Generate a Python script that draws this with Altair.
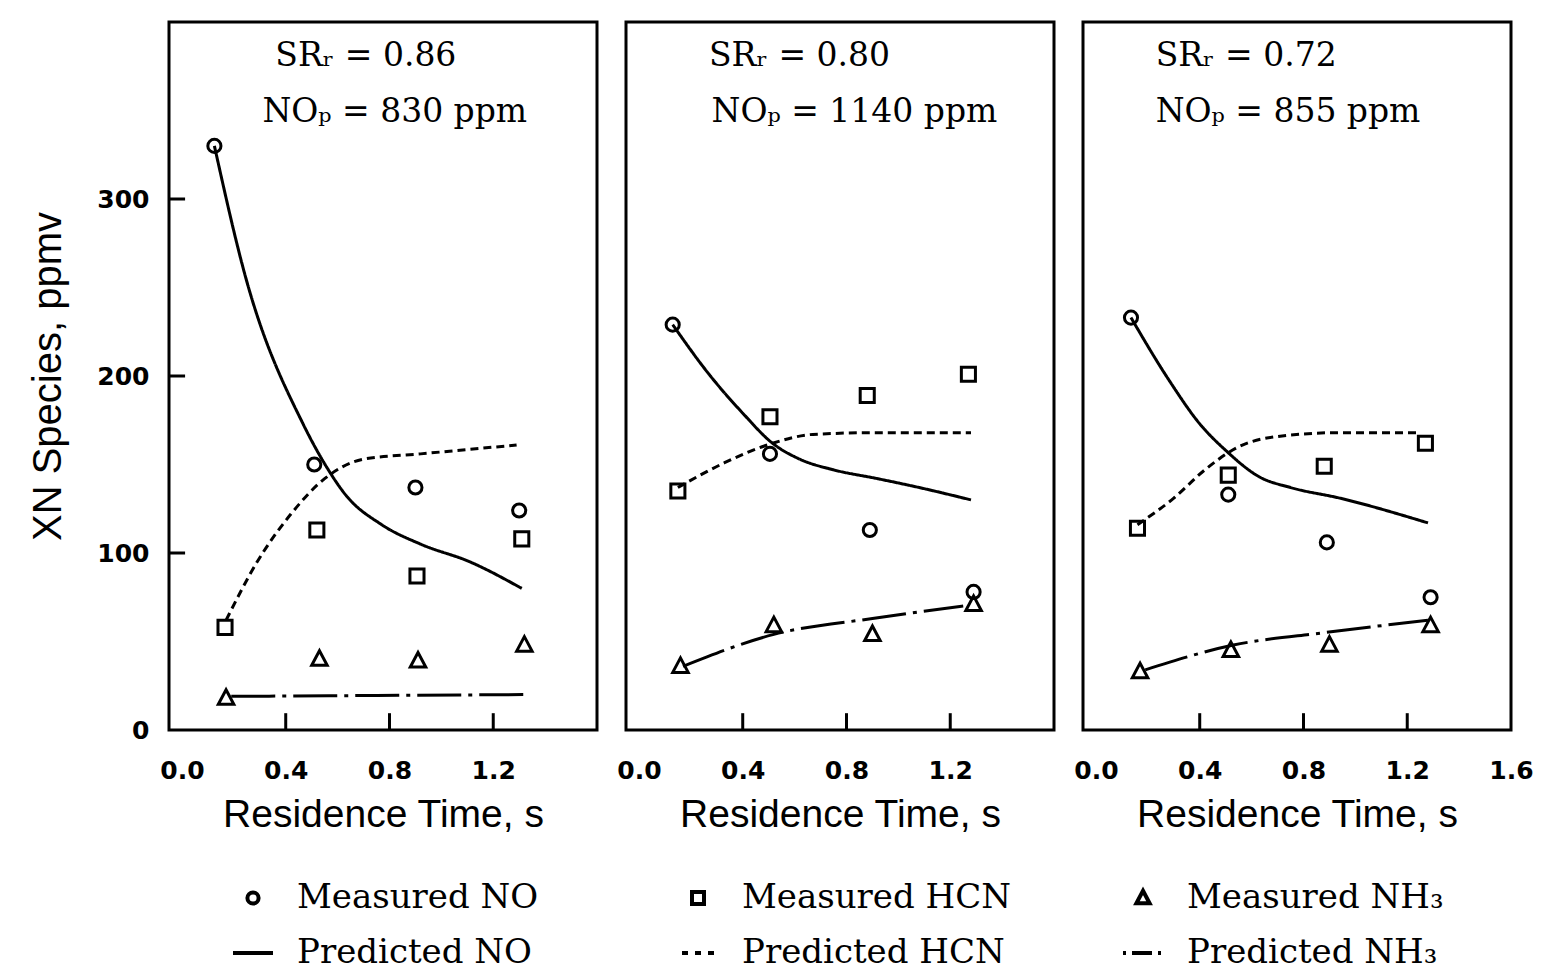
import altair as alt
import pandas as pd

# ---------------- data ----------------
panel_ids = [0, 1, 2]
sr_text = ["SR\u1d63 = 0.86", "SR\u1d63 = 0.80", "SR\u1d63 = 0.72"]
nop_text = ["NO\u209a = 830 ppm", "NO\u209a = 1140 ppm", "NO\u209a = 855 ppm"]

# Measured NO
mno_x = [[0.125, 0.51, 0.90, 1.30], [0.13, 0.505, 0.89, 1.29], [0.135, 0.51, 0.89, 1.29]]
mno_y = [[330, 150, 137, 124], [229, 156, 113, 78], [233, 133, 106, 75]]
# Measured HCN
mhcn_x = [[0.166, 0.52, 0.906, 1.31], [0.15, 0.505, 0.88, 1.27], [0.16, 0.51, 0.88, 1.27]]
mhcn_y = [[58, 113, 87, 108], [135, 177, 189, 201], [114, 144, 149, 162]]
# Measured NH3
mnh3_x = [[0.17, 0.53, 0.91, 1.32], [0.16, 0.52, 0.90, 1.29], [0.17, 0.52, 0.90, 1.29]]
mnh3_y = [[18, 40, 39, 48], [36, 59, 54, 71], [33, 45, 48, 59]]

# Predicted NO
pno_x = [[0.125, 0.245, 0.47, 0.56, 0.63, 0.77, 0.92, 1.11, 1.31],
         [0.13, 0.27, 0.40, 0.515, 0.62, 0.75, 0.92, 1.08, 1.28],
         [0.135, 0.28, 0.40, 0.50, 0.63, 0.75, 0.94, 1.28]]
pno_y = [[330, 256, 172, 148, 133, 116, 105, 95, 80],
         [229, 201, 179, 162, 153, 147, 142, 137, 130],
         [233, 198, 173, 158, 143, 137, 131, 117]]
# Predicted HCN
phcn_x = [[0.17, 0.29, 0.42, 0.55, 0.70, 0.92, 1.29],
          [0.15, 0.33, 0.515, 0.67, 0.92, 1.28],
          [0.16, 0.30, 0.42, 0.55, 0.71, 0.94, 1.25]]
phcn_y = [[62, 95, 122, 142, 153, 156, 161],
          [137, 151, 162, 167, 168, 168],
          [116, 131, 147, 160, 166, 168, 168]]
# Predicted NH3
pnh3_x = [[0.19, 0.75, 1.32], [0.17, 0.52, 0.90, 1.25], [0.19, 0.53, 0.88, 1.28]]
pnh3_y = [[19, 19.5, 20], [36, 54, 63, 70], [34, 48, 55, 62]]

# tick values
x_tick_vals = [0.4, 0.8, 1.2]
y_tick_vals = [100, 200, 300]
x_label_vals = [[0.0, 0.4, 0.8, 1.2], [0.0, 0.4, 0.8, 1.2], [0.0, 0.4, 0.8, 1.2, 1.6]]
y_label_vals = [0, 100, 200, 300]

# annotation anchors (data coordinates)
ann_x = [[0.36, 0.31], [0.27, 0.28], [0.23, 0.23]]
ann_y = [381, 349]

measured_names = ["Measured NO", "Measured HCN", "Measured NH\u2083"]
predicted_names = ["Predicted NO", "Predicted HCN", "Predicted NH\u2083"]

# ---------------- build tables ----------------
meas_rows, pred_rows, ann_rows = [], [], []
for p in panel_ids:
    for name, xs, ys in [(measured_names[0], mno_x, mno_y),
                         (measured_names[1], mhcn_x, mhcn_y),
                         (measured_names[2], mnh3_x, mnh3_y)]:
        for a, b in zip(xs[p], ys[p]):
            meas_rows.append({"panel": p, "series": name, "t": a, "v": b})
    for name, xs, ys in [(predicted_names[0], pno_x, pno_y),
                         (predicted_names[1], phcn_x, phcn_y),
                         (predicted_names[2], pnh3_x, pnh3_y)]:
        for a, b in zip(xs[p], ys[p]):
            pred_rows.append({"panel": p, "series": name, "t": a, "v": b})
    ann_rows.append({"panel": p, "t": ann_x[p][0], "v": ann_y[0], "txt": sr_text[p]})
    ann_rows.append({"panel": p, "t": ann_x[p][1], "v": ann_y[1], "txt": nop_text[p]})

meas = pd.DataFrame(meas_rows)
pred = pd.DataFrame(pred_rows)
ann = pd.DataFrame(ann_rows)
xticks = pd.DataFrame({"t": x_tick_vals})
yticks = pd.DataFrame({"v": y_tick_vals})

# ---------------- styling ----------------
marker_paths = [
    "M0.28,0A0.28,0.28 0 1,1 -0.28,0A0.28,0.28 0 1,1 0.28,0Z",
    "M-0.3,-0.3H0.3V0.3H-0.3Z",
    "M0,-0.36L0.33,0.26H-0.33Z",
]
line_paths = [
    "M-1,0H1",
    "M-0.8,0H-0.5M-0.15,0H0.15M0.5,0H0.8",
    "M-1,0H-0.85M-0.55,0H0.45M0.75,0H0.9",
]
# legend fills column by column (2 rows): measured on top row, predicted below
legend_domain, legend_range = [], []
for k in range(3):
    legend_domain += [measured_names[k], predicted_names[k]]
    legend_range += [marker_paths[k], line_paths[k]]

dash_styles = [[1, 0], [8, 5], [44, 7, 4, 7]]

W, H = 428, 708
XDOM = [-0.05, 1.6]
YDOM = [0, 400]
SANS = "Liberation Sans"
SERIF = "DejaVu Serif, DejaVu Sans"


def panel(p):
    xs = alt.Scale(domain=XDOM, nice=False, zero=False)
    ys = alt.Scale(domain=YDOM, nice=False)
    xaxis = alt.Axis(values=x_label_vals[p], format=".1f", title="Residence Time, s",
                     ticks=False, domain=False, grid=False, labelPadding=28,
                     labelFont="DejaVu Sans", labelFontWeight="bold", labelFontSize=25,
                     labelColor="black", titleFont=SANS, titleFontSize=39,
                     titleFontWeight="normal", titleColor="black", titlePadding=12,
                     labelFlush=False)
    if p == 0:
        yaxis = alt.Axis(values=y_label_vals, format="d", title="XN Species, ppmv",
                         ticks=False, domain=False, grid=False, labelPadding=20,
                         labelFont="DejaVu Sans", labelFontWeight="bold", labelFontSize=25,
                         labelColor="black", titleFont=SANS, titleFontSize=40,
                         titleFontWeight="normal", titleColor="black", titlePadding=28,
                         labelFlush=False)
    else:
        yaxis = None

    X = alt.X("t:Q", scale=xs, axis=xaxis)
    Y = alt.Y("v:Q", scale=ys, axis=yaxis)

    shape_scale = alt.Scale(domain=legend_domain, range=legend_range)
    if p == 0:
        shape_enc = alt.Shape(
            "series:N", scale=shape_scale,
            legend=alt.Legend(title=None, orient="none", legendX=62, legendY=854,
                              columns=3, gridAlign="all", columnPadding=104,
                              rowPadding=16, symbolSize=1600, symbolStrokeWidth=4,
                              symbolStrokeColor="black", symbolFillColor="white",
                              symbolOpacity=1, labelFont="DejaVu Serif",
                              labelFontSize=34, labelColor="black", labelLimit=500,
                              labelOffset=22))
    else:
        shape_enc = alt.Shape("series:N", scale=shape_scale, legend=None)

    pts = alt.Chart(meas[meas.panel == p]).mark_point(
        filled=False, color="black", strokeWidth=3, size=2200, opacity=1
    ).encode(x=X, y=Y, shape=shape_enc)

    layers = []
    for k in range(3):
        name = predicted_names[k]
        layers.append(
            alt.Chart(pred[(pred.panel == p) & (pred.series == name)]).mark_line(
                color="black", strokeWidth=3, interpolate="monotone",
                strokeDash=dash_styles[k]
            ).encode(x=X, y=Y)
        )

    tx = alt.Chart(xticks).mark_rule(color="black", strokeWidth=3).encode(
        x=X, y=alt.Y("y0:Q", scale=ys, axis=yaxis), y2="y1:Q"
    ).transform_calculate(y0="0", y1="9.5")
    layers.append(tx)
    if p == 0:
        ty = alt.Chart(yticks).mark_rule(color="black", strokeWidth=3).encode(
            y=Y, x=alt.X("x0:Q", scale=xs, axis=xaxis), x2="x1:Q"
        ).transform_calculate(x0=str(XDOM[0]), x1="0.012")
        layers.append(ty)

    txt = alt.Chart(ann[ann.panel == p]).mark_text(
        align="left", baseline="middle", font=SERIF, fontSize=33, color="black"
    ).encode(x=X, y=Y, text="txt:N")
    layers.append(txt)
    layers.append(pts)

    return alt.layer(*layers).properties(width=W, height=H)


chart = alt.hconcat(panel(0), panel(1), panel(2), spacing=16).properties(
    padding={"left": 27, "top": 20, "right": 5, "bottom": 5},
    background="white",
).configure_view(
    stroke="black", strokeWidth=3
)

chart.save("out.html", embed_options={"renderer": "svg", "actions": False})
